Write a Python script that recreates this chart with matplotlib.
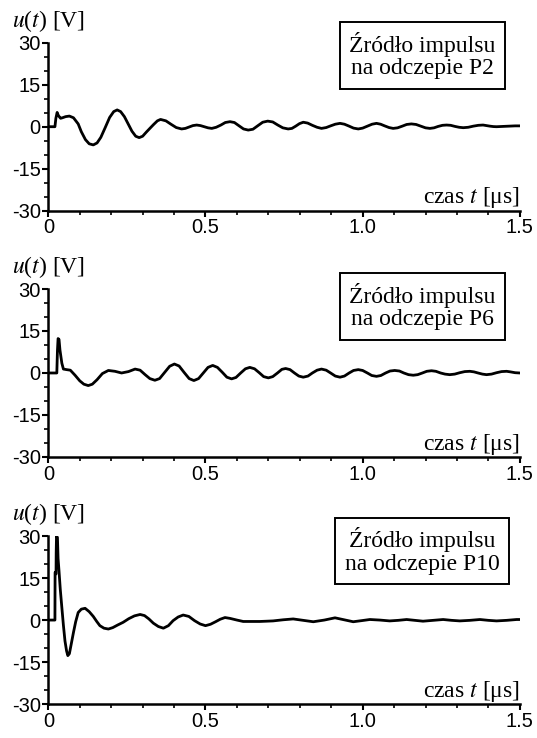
import numpy as np
import matplotlib
matplotlib.use("Agg")
import matplotlib.pyplot as plt
from matplotlib.ticker import MultipleLocator

plt.rcParams['mathtext.fontset'] = 'stix'
plt.rcParams['axes.unicode_minus'] = False

# panel 1 - source at tap P2
t_p2 = [0, 0.021, 0.024, 0.028, 0.032, 0.036, 0.039, 0.045, 0.055, 0.067, 0.08, 0.095,
        0.105, 0.118, 0.13, 0.143, 0.155, 0.167, 0.181, 0.195, 0.208, 0.219, 0.23, 0.242,
        0.254, 0.266, 0.278, 0.289, 0.3, 0.312, 0.323, 0.335, 0.347, 0.357, 0.374, 0.39,
        0.407, 0.424, 0.436, 0.448, 0.46, 0.472, 0.484, 0.496, 0.508, 0.52, 0.534, 0.549,
        0.563, 0.578, 0.592, 0.607, 0.621, 0.636, 0.651, 0.667, 0.682, 0.698, 0.714, 0.73,
        0.746, 0.763, 0.775, 0.787, 0.799, 0.811, 0.825, 0.84, 0.855, 0.869, 0.884, 0.898,
        0.913, 0.928, 0.942, 0.957, 0.971, 0.986, 1.0, 1.015, 1.03, 1.044, 1.057, 1.07,
        1.084, 1.097, 1.111, 1.126, 1.14, 1.155, 1.17, 1.185, 1.2, 1.214, 1.227, 1.24,
        1.254, 1.267, 1.28, 1.294, 1.307, 1.32, 1.336, 1.352, 1.368, 1.383, 1.394, 1.405,
        1.416, 1.426, 1.445, 1.465, 1.485, 1.5]
u_p2 = [0, 0, 3.0, 5.1, 4.0, 3.4, 3.0, 3.2, 3.6, 3.8, 3.2, 1.0,
        -1.8, -4.6, -6.1, -6.5, -5.8, -3.8, -0.3, 3.3, 5.4, 6.0, 5.4, 3.6,
        1.0, -1.6, -3.4, -3.9, -3.4, -1.9, -0.6, 0.8, 2.1, 2.6, 2.1, 0.9,
        -0.3, -0.8, -0.6, -0.1, 0.4, 0.6, 0.4, 0.0, -0.4, -0.6, -0.2, 0.6,
        1.5, 1.8, 1.5, 0.3, -0.8, -1.2, -0.9, 0.4, 1.6, 2.0, 1.7, 0.6,
        -0.4, -0.8, -0.6, 0.2, 1.1, 1.6, 1.3, 0.5, -0.2, -0.6, -0.3, 0.3,
        0.9, 1.2, 0.9, 0.2, -0.5, -0.8, -0.5, 0.2, 0.9, 1.2, 0.9, 0.3,
        -0.3, -0.6, -0.4, 0.2, 0.8, 1.0, 0.8, 0.2, -0.4, -0.6, -0.4, 0.1,
        0.5, 0.6, 0.5, 0.1, -0.2, -0.35, -0.2, 0.2, 0.5, 0.6, 0.4, 0.2,
        0.05, 0.0, 0.1, 0.2, 0.3, 0.3]

# panel 2 - source at tap P6
t_p6 = [0, 0.027, 0.029, 0.031, 0.034, 0.037, 0.043, 0.048, 0.058, 0.07, 0.085, 0.1,
        0.113, 0.127, 0.14, 0.155, 0.172, 0.191, 0.212, 0.233, 0.255, 0.276, 0.292, 0.308,
        0.323, 0.339, 0.354, 0.37, 0.386, 0.401, 0.416, 0.432, 0.448, 0.463, 0.478, 0.493,
        0.508, 0.523, 0.538, 0.553, 0.568, 0.583, 0.597, 0.612, 0.627, 0.641, 0.656, 0.671,
        0.685, 0.7, 0.714, 0.729, 0.743, 0.755, 0.769, 0.783, 0.797, 0.811, 0.826, 0.84,
        0.855, 0.869, 0.884, 0.898, 0.913, 0.928, 0.942, 0.957, 0.971, 0.986, 1.0, 1.015,
        1.029, 1.044, 1.058, 1.073, 1.087, 1.102, 1.117, 1.131, 1.146, 1.161, 1.175, 1.19,
        1.204, 1.219, 1.233, 1.248, 1.262, 1.277, 1.293, 1.309, 1.325, 1.341, 1.354, 1.367,
        1.381, 1.394, 1.41, 1.426, 1.442, 1.458, 1.47, 1.485, 1.5]
u_p6 = [0, 0, 8.0, 12.3, 12.0, 8.2, 3.5, 1.4, 1.2, 1.0, -0.8, -2.8,
        -4.0, -4.5, -4.0, -2.4, -0.2, 0.9, 0.6, 0.0, 0.5, 1.4, 1.0, -0.6,
        -2.0, -2.6, -2.0, 0.2, 2.4, 3.2, 2.5, 0.2, -2.0, -2.7, -2.0, 0.0,
        2.0, 2.7, 2.0, 0.3, -1.5, -2.1, -1.6, 0.0, 1.5, 2.0, 1.5, 0.1,
        -1.3, -1.75, -1.3, 0.0, 1.3, 1.6, 1.2, 0.0, -1.1, -1.5, -1.1, 0.0,
        1.0, 1.4, 1.0, 0.0, -1.1, -1.5, -1.1, 0.0, 0.9, 1.2, 0.9, 0.0,
        -0.9, -1.2, -0.9, 0.0, 0.7, 0.9, 0.7, 0.0, -0.6, -0.8, -0.6, 0.0,
        0.6, 0.8, 0.6, 0.0, -0.4, -0.6, -0.4, 0.1, 0.5, 0.6, 0.4, 0.0,
        -0.4, -0.6, -0.4, 0.1, 0.5, 0.6, 0.4, 0.1, 0.0]

# panel 3 - source at tap P10
t_p10 = [0, 0.021, 0.0215, 0.0245, 0.025, 0.026, 0.029, 0.031, 0.034, 0.038, 0.043, 0.048,
         0.053, 0.058, 0.062, 0.067, 0.073, 0.08, 0.087, 0.095, 0.105, 0.117, 0.13, 0.143,
         0.154, 0.164, 0.177, 0.191, 0.205, 0.22, 0.238, 0.256, 0.274, 0.292, 0.306, 0.32,
         0.334, 0.35, 0.366, 0.382, 0.397, 0.413, 0.429, 0.447, 0.465, 0.483, 0.5, 0.516,
         0.532, 0.547, 0.562, 0.578, 0.6, 0.62, 0.645, 0.673, 0.695, 0.715, 0.747, 0.779,
         0.811, 0.843, 0.878, 0.912, 0.941, 0.97, 0.997, 1.023, 1.055, 1.086, 1.113, 1.14,
         1.166, 1.192, 1.224, 1.256, 1.283, 1.309, 1.341, 1.373, 1.4, 1.426, 1.458, 1.49,
         1.5]
u_p10 = [0, 0, 17.0, 16.5, 24.0, 30.0, 29.5, 22.0, 17.5, 11.0, 4.5, -1.9,
         -7.5, -11.0, -12.7, -12.0, -8.5, -4.4, -0.6, 2.7, 3.9, 4.2, 3.0, 1.3,
         -0.5, -2.0, -2.9, -3.2, -2.7, -1.8, -0.8, 0.5, 1.5, 2.0, 1.6, 0.4,
         -1.1, -2.3, -2.9, -2.0, -0.2, 1.1, 1.8, 1.3, -0.2, -1.4, -2.0, -1.5,
         -0.6, 0.3, 0.9, 0.6, 0.0, -0.5, -0.5, -0.5, -0.4, -0.3, 0.1, 0.4,
         -0.1, -0.6, 0.0, 0.8, 0.1, -0.6, -0.2, 0.2, 0.0, -0.3, -0.1, 0.2,
         -0.1, -0.4, -0.1, 0.2, -0.1, -0.3, -0.1, 0.2, -0.1, -0.3, -0.1, 0.2,
         0.2]

series = [(t_p2, u_p2, "P2"), (t_p6, u_p6, "P6"), (t_p10, u_p10, "P10")]
ax_bottoms = [0.7145, 0.3808, 0.046]
box_y = [0.925, 0.897, 0.912]

fig = plt.figure(figsize=(5.37, 7.38), dpi=100)

for (t, u, tap), b, by in zip(series, ax_bottoms, box_y):
    ax = fig.add_axes([0.090, b, 0.878, 0.2276])
    ax.plot(t, u, color="black", lw=2.0, solid_joinstyle="round")
    ax.set_xlim(0, 1.5)
    ax.set_ylim(-30, 30)
    ax.spines["top"].set_visible(False)
    ax.spines["right"].set_visible(False)
    ax.spines["left"].set_linewidth(1.8)
    ax.spines["bottom"].set_linewidth(1.8)
    ax.set_xticks([0, 0.5, 1.0, 1.5])
    ax.set_xticklabels(["0", "0.5", "1.0", "1.5"])
    ax.set_yticks([-30, -15, 0, 15, 30])
    ax.xaxis.set_minor_locator(MultipleLocator(0.1))
    ax.yaxis.set_minor_locator(MultipleLocator(5))
    ax.tick_params(which="major", length=4, width=1.5, labelsize=14.5, pad=1.5)
    ax.tick_params(which="minor", length=3, width=1.2)
    for lab in ax.get_xticklabels() + ax.get_yticklabels():
        lab.set_family("Liberation Sans")
    ax.text(-0.077, 1.13, "$u$($t$) [V]", transform=ax.transAxes, ha="left", va="center",
            fontsize=17, family="Liberation Serif", clip_on=False)
    ax.text(1.0, 0.076, "czas $t$ [\u03bcs]", transform=ax.transAxes, ha="right", va="center",
            fontsize=17, family="Liberation Serif")
    ax.text(0.793, by, "\u0179r\u00f3d\u0142o impulsu\nna odczepie " + tap, transform=ax.transAxes,
            ha="center", va="center", fontsize=17, family="Liberation Serif", linespacing=1.1,
            clip_on=False,
            bbox=dict(boxstyle="square,pad=0.4", fc="white", ec="black", lw=1.4))

fig.savefig("out.png", dpi=100)
